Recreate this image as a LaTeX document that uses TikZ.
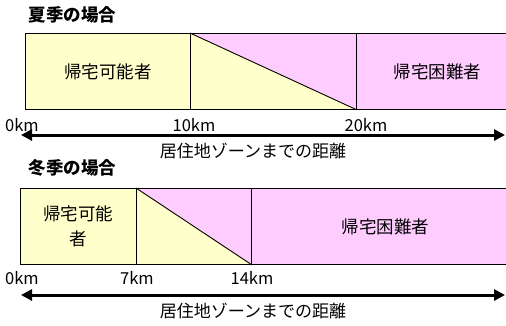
\documentclass[tikz,border=0pt]{standalone}
\usepackage{fontspec}
\setmainfont{Noto Sans CJK JP}
\usetikzlibrary{arrows.meta}
\definecolor{yel}{HTML}{FFFFCC}
\definecolor{pnk}{HTML}{FFCCFF}
\begin{document}
\begin{tikzpicture}[x=1pt,y=-1pt,
  cell/.style={draw=black,line width=0.9pt,inner sep=0pt,anchor=north west,minimum height=76pt,align=center,font=\fontsize{17.5}{25}\selectfont},
  paneltitle/.style={anchor=west,font=\fontsize{17.5}{20}\selectfont\bfseries},
  kmlabel/.style={font=\fontsize{16.5}{18}\selectfont},
  axislabel/.style={font=\fontsize{17}{20}\selectfont},
  distarrow/.style={{Triangle[length=11pt,width=11pt]}-{Triangle[length=11pt,width=11pt]},line width=3pt}]
\path[use as bounding box] (0,0) rectangle (506,325);
\clip (0,0) rectangle (506,325);
% ---- summer ----
\node[paneltitle] (t1) at (25,15) {夏季の場合};
\node[cell,fill=yel,minimum width=165pt] (s1) at (25,33) {帰宅可能者};
\node[cell,fill=pnk,minimum width=166pt] (s2) at (190,33) {};
\fill[yel] (s2.north west) -- (s2.south east) -- (s2.south west) -- cycle;
\draw[line width=0.9pt] (s2.north west) -- (s2.south east);
\draw[line width=0.9pt] (s2.north west) rectangle (s2.south east);
\node[cell,fill=pnk,minimum width=162pt] (s3) at (356,33) {帰宅困難者};
\node[kmlabel] (k0) at (22,125) {0km};
\node[kmlabel] (k10) at (194,125) {10km};
\node[kmlabel] (k20) at (366,125) {20km};
\coordinate (a1l) at (21,135);
\coordinate (a1r) at (505,135);
\draw[distarrow] (a1l) -- (a1r);
\node[axislabel] (c1) at (253,151) {居住地ゾーンまでの距離};
% ---- winter ----
\node[paneltitle] (t2) at (25,168) {冬季の場合};
\node[cell,fill=yel,minimum width=116pt] (w1) at (20,188) {帰宅可能\\者};
\node[cell,fill=pnk,minimum width=115pt] (w2) at (136,188) {};
\fill[yel] (w2.north west) -- (w2.south east) -- (w2.south west) -- cycle;
\draw[line width=0.9pt] (w2.north west) -- (w2.south east);
\draw[line width=0.9pt] (w2.north west) rectangle (w2.south east);
\node[cell,fill=pnk,minimum width=268pt] (w3) at (251,188) {帰宅困難者};
\node[kmlabel] (m0) at (22,278) {0km};
\node[kmlabel] (m7) at (137,278) {7km};
\node[kmlabel] (m14) at (252,278) {14km};
\coordinate (a2l) at (21,295);
\coordinate (a2r) at (505,295);
\draw[distarrow] (a2l) -- (a2r);
\node[axislabel] (c2) at (253,311) {居住地ゾーンまでの距離};
\end{tikzpicture}
\end{document}
